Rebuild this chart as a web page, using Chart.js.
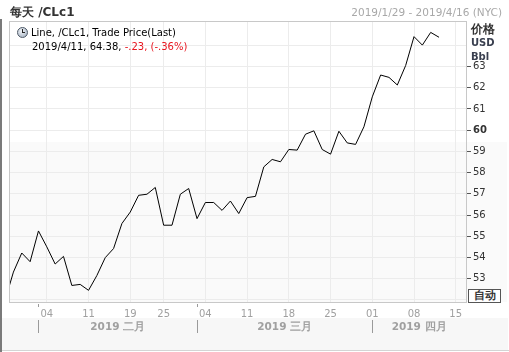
<!DOCTYPE html>
<html>
<head>
<meta charset="utf-8">
<script src="https://cdn.jsdelivr.net/npm/chart.js@4"></script>
<style>
  body { margin: 0; background: #fff; font-family: "DejaVu Sans", sans-serif; }
  #wrap { position: relative; width: 509px; height: 352px; overflow: hidden; }
  #c { position: absolute; left: 0; top: 0; }
  .txt { position: absolute; white-space: nowrap; line-height: 1; }
  #title { left: 10px; top: 6px; font-size: 12px; font-weight: bold; color: #333; }
  #range { right: 7px; top: 7px; font-size: 10.5px; color: #a8a8a8; }
  #leg1 { left: 31px; top: 28px; font-size: 10px; color: #000; }
  #leg2 { left: 32px; top: 42px; font-size: 10px; color: #000; }
  #leg2 .neg { color: #e8141e; }
  #clock { position: absolute; left: 17px; top: 27px; width: 9px; height: 9px; border-radius: 50%;
           border: 1px solid #4d5866; background: radial-gradient(circle at 40% 35%, #f2f5f9, #9aa8b9); }
  #clock i { position: absolute; background: #222; }
  #ytitle { left: 471px; top: 23px; font-size: 12px; font-weight: bold; color: #333; }
  #yunit1 { left: 471px; top: 38px; font-size: 10px; font-weight: bold; color: #3a4050; }
  #yunit2 { left: 471px; top: 52px; font-size: 10px; font-weight: bold; color: #3a4050; }
  #auto { position: absolute; left: 468px; top: 289px; width: 31px; height: 12px; border: 1px solid #555;
          font-size: 11px; font-weight: bold; color: #333; text-align: center; line-height: 12px; background: #fff; }
</style>
</head>
<body>
<div id="wrap">
  <canvas id="c" width="509" height="352"></canvas>
  <div class="txt" id="title">每天 /CLc1</div>
  <div class="txt" id="range">2019/1/29 - 2019/4/16 (NYC)</div>
  <div id="clock"><i style="left:4px;top:1px;width:1px;height:4px"></i><i style="left:4px;top:4px;width:3px;height:1px"></i></div>
  <div class="txt" id="leg1">Line, /CLc1, Trade Price(Last)</div>
  <div class="txt" id="leg2">2019/4/11, 64.38, <span class="neg">-.23, (-.36%)</span></div>
  <div class="txt" id="ytitle">价格</div>
  <div class="txt" id="yunit1">USD</div>
  <div class="txt" id="yunit2">Bbl</div>
  <div id="auto">自动</div>
</div>
<script>
// trading days shown on the x axis (Jan 28 is partly clipped on the left)
var tradingDays = [
  '2019-01-28','2019-01-29','2019-01-30','2019-01-31','2019-02-01',
  '2019-02-04','2019-02-05','2019-02-06','2019-02-07','2019-02-08',
  '2019-02-11','2019-02-12','2019-02-13','2019-02-14','2019-02-15',
  '2019-02-19','2019-02-20','2019-02-21','2019-02-22',
  '2019-02-25','2019-02-26','2019-02-27','2019-02-28','2019-03-01',
  '2019-03-04','2019-03-05','2019-03-06','2019-03-07','2019-03-08',
  '2019-03-11','2019-03-12','2019-03-13','2019-03-14','2019-03-15',
  '2019-03-18','2019-03-19','2019-03-20','2019-03-21','2019-03-22',
  '2019-03-25','2019-03-26','2019-03-27','2019-03-28','2019-03-29',
  '2019-04-01','2019-04-02','2019-04-03','2019-04-04','2019-04-05',
  '2019-04-08','2019-04-09','2019-04-10','2019-04-11','2019-04-12',
  '2019-04-15','2019-04-16'
];

// last trade price, one per trading day up to 2019/4/11
var closes = [
  51.99, 53.31, 54.21, 53.80, 55.25,
  54.50, 53.69, 54.05, 52.68, 52.73,
  52.45, 53.15, 53.99, 54.42, 55.60,
  56.14, 56.93, 56.98, 57.30,
  55.52, 55.52, 56.98, 57.25, 55.83,
  56.59, 56.59, 56.22, 56.66, 56.07,
  56.82, 56.88, 58.27, 58.62, 58.51,
  59.09, 59.06, 59.81, 59.97, 59.09,
  58.87, 59.95, 59.40, 59.33, 60.16,
  61.57, 62.60, 62.49, 62.13, 63.05,
  64.41, 64.01, 64.61, 64.38
];

var xTickDates = ['2019-02-04','2019-02-11','2019-02-19','2019-02-25','2019-03-04',
  '2019-03-11','2019-03-18','2019-03-25','2019-04-01','2019-04-08','2019-04-15'];
var yTickValues = [52, 53, 54, 55, 56, 57, 58, 59, 60, 61, 62, 63, 64];
var yLabelled = [53, 54, 55, 56, 57, 58, 59, 60, 61, 62, 63];
var monthStarts = ['2019-02-01', '2019-03-01', '2019-04-01'];
var monthNames = ['2019 二月', '2019 三月', '2019 四月'];

var xTickIdx = xTickDates.map(function (d) { return tradingDays.indexOf(d); });
var points = closes.map(function (v, i) { return { x: i, y: v }; });

var FONT = '"DejaVu Sans", sans-serif';

var framePlugin = {
  id: 'frame',
  beforeDraw: function (chart) {
    var c = chart.ctx, a = chart.chartArea;
    c.save();
    c.fillStyle = '#ffffff';
    c.fillRect(0, 0, chart.width, chart.height);
    // slightly grey lower half of the plot and the footer band
    c.fillStyle = '#fafafa';
    c.fillRect(a.left, 142, chart.width - a.left - 2, a.bottom - 142);
    c.fillStyle = '#f7f7f7';
    c.fillRect(2, 318, chart.width - 3, 32);
    c.restore();
  },
  afterDraw: function (chart) {
    var c = chart.ctx, a = chart.chartArea, xs = chart.scales.x;
    c.save();
    // plot frame
    c.strokeStyle = '#c8c8c8';
    c.lineWidth = 1;
    c.strokeRect(a.left - 0.5, a.top - 0.5, a.right - a.left + 1, a.bottom - a.top + 1);
    // outer edges
    c.fillStyle = '#7a7a7a';
    c.fillRect(0, 19, 2, chart.height - 19);
    c.fillStyle = '#d4d4d4';
    c.fillRect(2, 350, chart.width - 2, 1);
    // month separators and names
    var starts = monthStarts.map(function (d) { return xs.getPixelForValue(tradingDays.indexOf(d)); });
    c.strokeStyle = '#9a9a9a';
    c.fillStyle = '#a0a0a0';
    c.font = 'bold 10.5px ' + FONT;
    c.textAlign = 'center';
    c.textBaseline = 'middle';
    for (var i = 0; i < starts.length; i++) {
      var sx = Math.round(starts[i]) + 0.5;
      c.beginPath();
      c.moveTo(sx, 320); c.lineTo(sx, 333);
      if (xTickIdx.indexOf(tradingDays.indexOf(monthStarts[i])) < 0) {
        c.moveTo(sx, 304); c.lineTo(sx, 307);
      }
      c.stroke();
      var end = i + 1 < starts.length ? starts[i + 1] : a.right;
      c.fillText(monthNames[i], (starts[i] + end) / 2, 327);
    }
    c.restore();
  }
};

new Chart(document.getElementById('c'), {
  type: 'line',
  data: {
    datasets: [{
      data: points,
      borderColor: '#000000',
      borderWidth: 1,
      pointRadius: 0,
      tension: 0,
      fill: false
    }]
  },
  options: {
    responsive: false,
    animation: false,
    events: [],
    layout: { padding: { left: 10, top: 22, right: 0, bottom: 0 } },
    plugins: { legend: { display: false }, tooltip: { enabled: false } },
    scales: {
      x: {
        type: 'linear',
        min: 0.59,
        max: 55.23,
        afterBuildTicks: function (axis) {
          axis.ticks = xTickIdx.map(function (v) { return { value: v }; });
        },
        afterFit: function (axis) { axis.height = 50; },
        grid: { color: '#ececec', drawTicks: false },
        border: { display: false },
        ticks: {
          autoSkip: false,
          maxRotation: 0,
          padding: 6,
          color: '#a0a0a0',
          font: { family: FONT, size: 10 },
          callback: function (v) { return tradingDays[v].slice(8); }
        }
      },
      y: {
        position: 'right',
        min: 51.9,
        max: 65.1,
        afterBuildTicks: function (axis) {
          axis.ticks = yTickValues.map(function (v) { return { value: v }; });
        },
        afterFit: function (axis) { axis.width = 43; },
        grid: {
          color: '#ececec',
          tickLength: 5,
          tickColor: function (ctx) {
            return ctx.tick && yLabelled.indexOf(ctx.tick.value) >= 0 ? '#555555' : 'rgba(0,0,0,0)';
          }
        },
        border: { display: false },
        ticks: {
          padding: 2,
          color: '#333333',
          font: function (ctx) {
            return { family: FONT, size: 10, weight: ctx.tick && ctx.tick.value === 60 ? 'bold' : 'normal' };
          },
          callback: function (v) { return yLabelled.indexOf(v) >= 0 ? String(v) : ''; }
        }
      }
    }
  },
  plugins: [framePlugin]
});
</script>
</body>
</html>
